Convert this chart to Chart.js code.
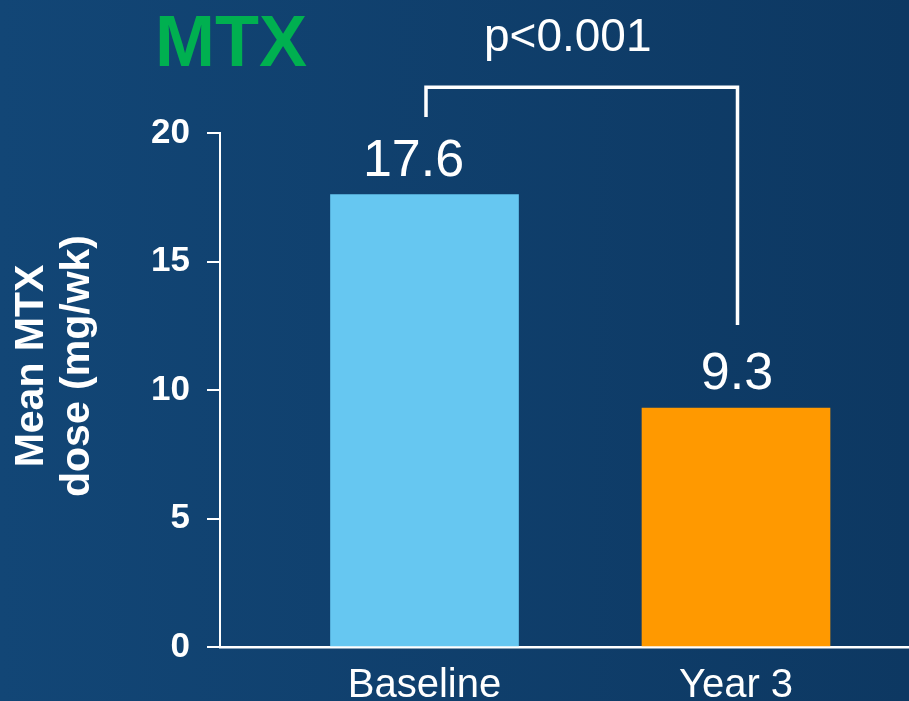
<!DOCTYPE html>
<html lang="en">
<head>
  <meta charset="UTF-8" />
  <title>Mean MTX dose</title>
  <script src="https://cdn.jsdelivr.net/npm/chart.js"></script>
  <style>
    html, body { margin: 0; padding: 0; background: #10406c; overflow: hidden; }
    canvas { display: block; }
  </style>
</head>
<body>

  <canvas id="mtxChart" width="909" height="701"></canvas>

  <script>
    // data
    const categories = ['Baseline', 'Year 3'];
    const positions = [1, 2];
    const meanDose = [17.6, 9.3];
    const barColors = ['#66c7f1', '#ff9900'];
    const yTicks = [0, 5, 10, 15, 20];
    const yTitle = ['Mean MTX', 'dose (mg/wk)'];
    const pLabel = 'p<0.001';
    const bracketTop = 21.78;
    const bracketEnds = [20.62, 12.53];

    const FONT = '"Liberation Sans", Arial, sans-serif';
    Chart.defaults.font.family = FONT;

    // dark blue slide background
    const slideBackground = {
      id: 'slideBackground',
      beforeDraw(chart) {
        const { ctx, width, height } = chart;
        const g = ctx.createLinearGradient(0, 0, width, 0);
        g.addColorStop(0, '#124676');
        g.addColorStop(1, '#0d3862');
        ctx.save();
        ctx.fillStyle = g;
        ctx.fillRect(0, 0, width, height);
        ctx.restore();
      }
    };

    // value labels, significance bracket, axis title and the MTX heading
    const annotations = {
      id: 'annotations',
      afterDatasetsDraw(chart) {
        const { ctx, scales: { x, y } } = chart;
        const bars = chart.getDatasetMeta(0).data;
        const labelShift = [-11, 1];
        ctx.save();
        ctx.fillStyle = '#ffffff';
        ctx.textAlign = 'center';
        ctx.textBaseline = 'alphabetic';
        ctx.font = '52px ' + FONT;
        bars.forEach((bar, i) => {
          ctx.fillText(meanDose[i].toFixed(1), bar.x + labelShift[i], bar.y - 19);
        });

        const x1 = x.getPixelForValue(positions[0]) + 1.5;
        const x2 = x.getPixelForValue(positions[1]) + 1.5;
        const yTop = y.getPixelForValue(bracketTop);
        ctx.strokeStyle = '#ffffff';
        ctx.lineWidth = 3.5;
        ctx.lineJoin = 'miter';
        ctx.beginPath();
        ctx.moveTo(x1, y.getPixelForValue(bracketEnds[0]));
        ctx.lineTo(x1, yTop);
        ctx.lineTo(x2, yTop);
        ctx.lineTo(x2, y.getPixelForValue(bracketEnds[1]));
        ctx.stroke();

        ctx.font = '46px ' + FONT;
        ctx.fillText(pLabel, (x1 + x2) / 2 - 14, yTop - 36);

        // rotated y axis title, two lines
        ctx.save();
        ctx.translate(32, y.getPixelForValue(10) - 24);
        ctx.rotate(-Math.PI / 2);
        ctx.font = 'bold 41px ' + FONT;
        ctx.textBaseline = 'middle';
        yTitle.forEach((line, i) => ctx.fillText(line, 0, i * 46));
        ctx.restore();

        ctx.fillStyle = '#00b050';
        ctx.textAlign = 'left';
        ctx.font = 'bold 72px ' + FONT;
        ctx.fillText('MTX', 155, 66);
        ctx.restore();
      }
    };

    new Chart(document.getElementById('mtxChart'), {
      type: 'bar',
      data: {
        datasets: [{
          data: positions.map((p, i) => ({ x: p, y: meanDose[i] })),
          backgroundColor: barColors,
          borderWidth: 0,
          barThickness: 188
        }]
      },
      options: {
        responsive: false,
        devicePixelRatio: 1,
        animation: false,
        layout: { padding: { top: 133, left: 0, right: 0, bottom: 0 } },
        plugins: {
          legend: { display: false },
          tooltip: { enabled: false }
        },
        scales: {
          x: {
            type: 'linear',
            offset: false,
            min: 0.3435,
            max: 2.5554,
            afterFit(scale) { scale.height = 54; },
            afterBuildTicks(scale) { scale.ticks = positions.map(v => ({ value: v })); },
            ticks: {
              color: '#ffffff',
              font: { size: 40 },
              padding: 7,
              autoSkip: false,
              maxRotation: 0,
              callback: v => categories[positions.indexOf(v)]
            },
            grid: { display: false },
            border: { display: true, color: '#ffffff', width: 2.5 }
          },
          y: {
            min: 0,
            max: 20,
            afterFit(scale) { scale.width = 220; },
            afterBuildTicks(scale) { scale.ticks = yTicks.map(v => ({ value: v })); },
            ticks: {
              color: '#ffffff',
              font: { size: 35, weight: 'bold' },
              padding: 17
            },
            grid: {
              drawOnChartArea: false,
              drawTicks: true,
              tickLength: 13,
              color: '#ffffff',
              lineWidth: 2
            },
            border: { display: true, color: '#ffffff', width: 2 }
          }
        }
      },
      plugins: [slideBackground, annotations]
    });
  </script>

</body>
</html>
